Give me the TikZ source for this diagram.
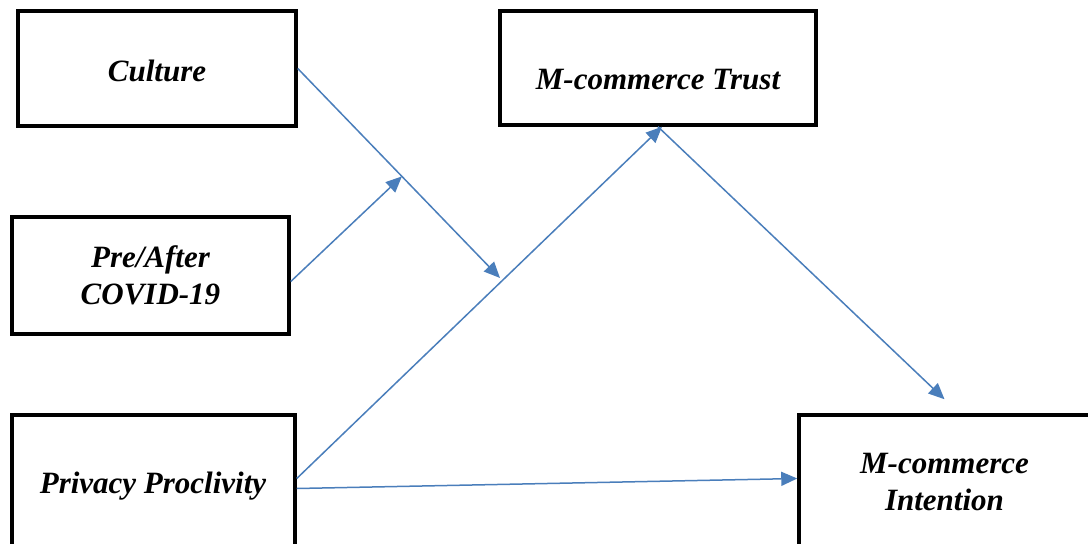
\documentclass[tikz,border=0pt]{standalone}
\usepackage{fontspec}
\setmainfont{Liberation Serif}
\usetikzlibrary{arrows.meta,calc}
\definecolor{linkblue}{RGB}{74,126,187}
\begin{document}
\begin{tikzpicture}[x=1pt,y=-1pt,
  box/.style={draw=black, line width=3.5pt, fill=white, inner sep=0pt},
  lbl/.style={font=\fontsize{31}{37}\selectfont\bfseries\itshape, align=center, inner sep=0pt},
  link/.style={draw=linkblue, line width=1.5pt, -{Triangle[length=16pt,width=14pt]}}]
\clip (0,0) rectangle (1088,544);
\fill[white] (0,0) rectangle (1088,544);

% constructs
\node[box, minimum width=278pt, minimum height=115pt] (culture) at (157,68.5) {};
\node[lbl] (culturetext) at (157,71) {Culture};
\node[box, lbl, minimum width=277pt, minimum height=117pt] (pre) at (150.5,275.5) {Pre/After\\COVID-19};
\node[box, minimum width=283pt, minimum height=137pt] (privacy) at (153.5,483.5) {};
\node[lbl] (privacytext) at (153,486) {Privacy Proclivity};
\node[box, minimum width=316pt, minimum height=114pt] (trust) at (658,68) {};
\node[lbl] (trusttext) at (658,80) {M-commerce Trust};
\node[box, lbl, minimum width=291pt, minimum height=133pt] (intention) at (944.5,481.5) {M-commerce\\Intention};

% paths
\coordinate (mod) at (500,278);
\coordinate (mid) at ($(culture.east)!0.515!(mod)$);
\draw[link] (culture.east) -- (mod);
\draw[link] ($(pre.east)+(0,6)$) -- (mid);
\draw[link] ($(privacy.east)+(0,-5)$) -- ($(trust.south)+(4,0)$);
\draw[link] (trust.south) -- ($(intention.north)+(0,-14)$);
\draw[link] ($(privacy.east)+(0,5)$) -- ($(intention.west)+(0,-3)$);
\end{tikzpicture}
\end{document}
